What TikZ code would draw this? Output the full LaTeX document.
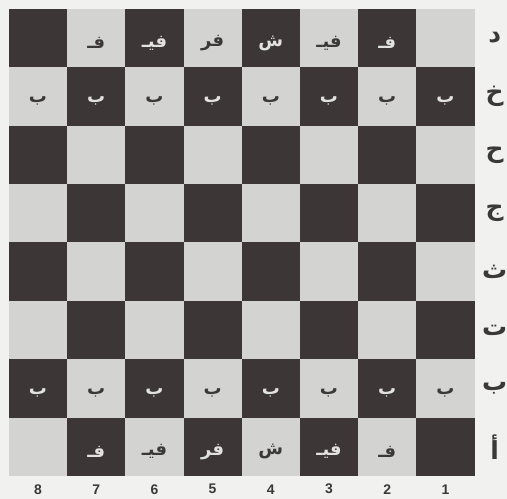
\documentclass[tikz,border=0pt]{standalone}
\usepackage{fontspec}
\usepackage{tikz}
\usetikzlibrary{positioning,calc}
\TeXXeTstate=1
\newfontfamily\arabicfont[Script=Arabic]{DejaVu Sans}
\newfontfamily\numfont{Liberation Sans}

\definecolor{paper}{HTML}{F1F1EF}
\definecolor{darksq}{HTML}{3C3736}
\definecolor{lightsq}{HTML}{D3D3D1}
\definecolor{darkpc}{HTML}{3A3838}
\definecolor{lightpc}{HTML}{E2E2E0}

\tikzset{
  square/.style={rectangle, minimum width=58.2bp, minimum height=58.4bp, inner sep=0pt},
  piece/.style={font=\arabicfont\bfseries\fontsize{18}{18}\selectfont, inner sep=0pt, yshift=-5bp},
  rowlab/.style={font=\arabicfont\bfseries\fontsize{25}{25}\selectfont, text=darkpc, inner sep=0pt},
  collab/.style={font=\numfont\bfseries\fontsize{14}{14}\selectfont, text=darkpc, inner sep=0pt}
}

\begin{document}
\begin{tikzpicture}[x=1bp, y=-1bp]
            \fill[paper] (0,0) rectangle (507,499);
            \useasboundingbox (0,0) rectangle (507,499);

            % Squares
            \foreach \r in {1,...,8}{
              \foreach \c in {1,...,8}{
                \pgfmathtruncatemacro{\odd}{mod(\r+\c,2)}
                \ifnum\odd=0 \colorlet{sqfill}{darksq}\else\colorlet{sqfill}{lightsq}\fi
                \node[square, fill=sqfill] (s-\r-\c) at ({474.5-(\c-0.5)*58.2}, {476-(\r-0.5)*58.4}) {};
              }
            }

            % Back ranks
            \foreach \c/\pc in {2/فـ, 3/فيـ, 4/ش, 5/فر, 6/فيـ, 7/فـ}{
              \foreach \r in {1,8}{
                \pgfmathtruncatemacro{\odd}{mod(\r+\c,2)}
                \ifnum\odd=0 \colorlet{pcfill}{lightpc}\else\colorlet{pcfill}{darkpc}\fi
                \node[piece, text=pcfill] (p-\r-\c) at (s-\r-\c) {\beginR\pc\endR};
              }
            }

            % Pawns
            \foreach \c in {1,...,8}{
              \foreach \r in {2,7}{
                \pgfmathtruncatemacro{\odd}{mod(\r+\c,2)}
                \ifnum\odd=0 \colorlet{pcfill}{lightpc}\else\colorlet{pcfill}{darkpc}\fi
                \node[piece, text=pcfill] (p-\r-\c) at (s-\r-\c) {\beginR ب\endR};
              }
            }

            % Rank letters
            \foreach \r/\lb in {1/أ, 2/ب, 3/ت, 4/ث, 5/ج, 6/ح, 7/خ, 8/د}{
              \node[rowlab] (l-\r) at ([xshift=20bp]s-\r-1.east) {\beginR\lb\endR};
            }

            % File numbers
            \foreach \c in {1,...,8}{
              \node[collab] (n-\c) at ([yshift=-13bp]s-1-\c.south) {\c};
            }
\end{tikzpicture}
\end{document}
